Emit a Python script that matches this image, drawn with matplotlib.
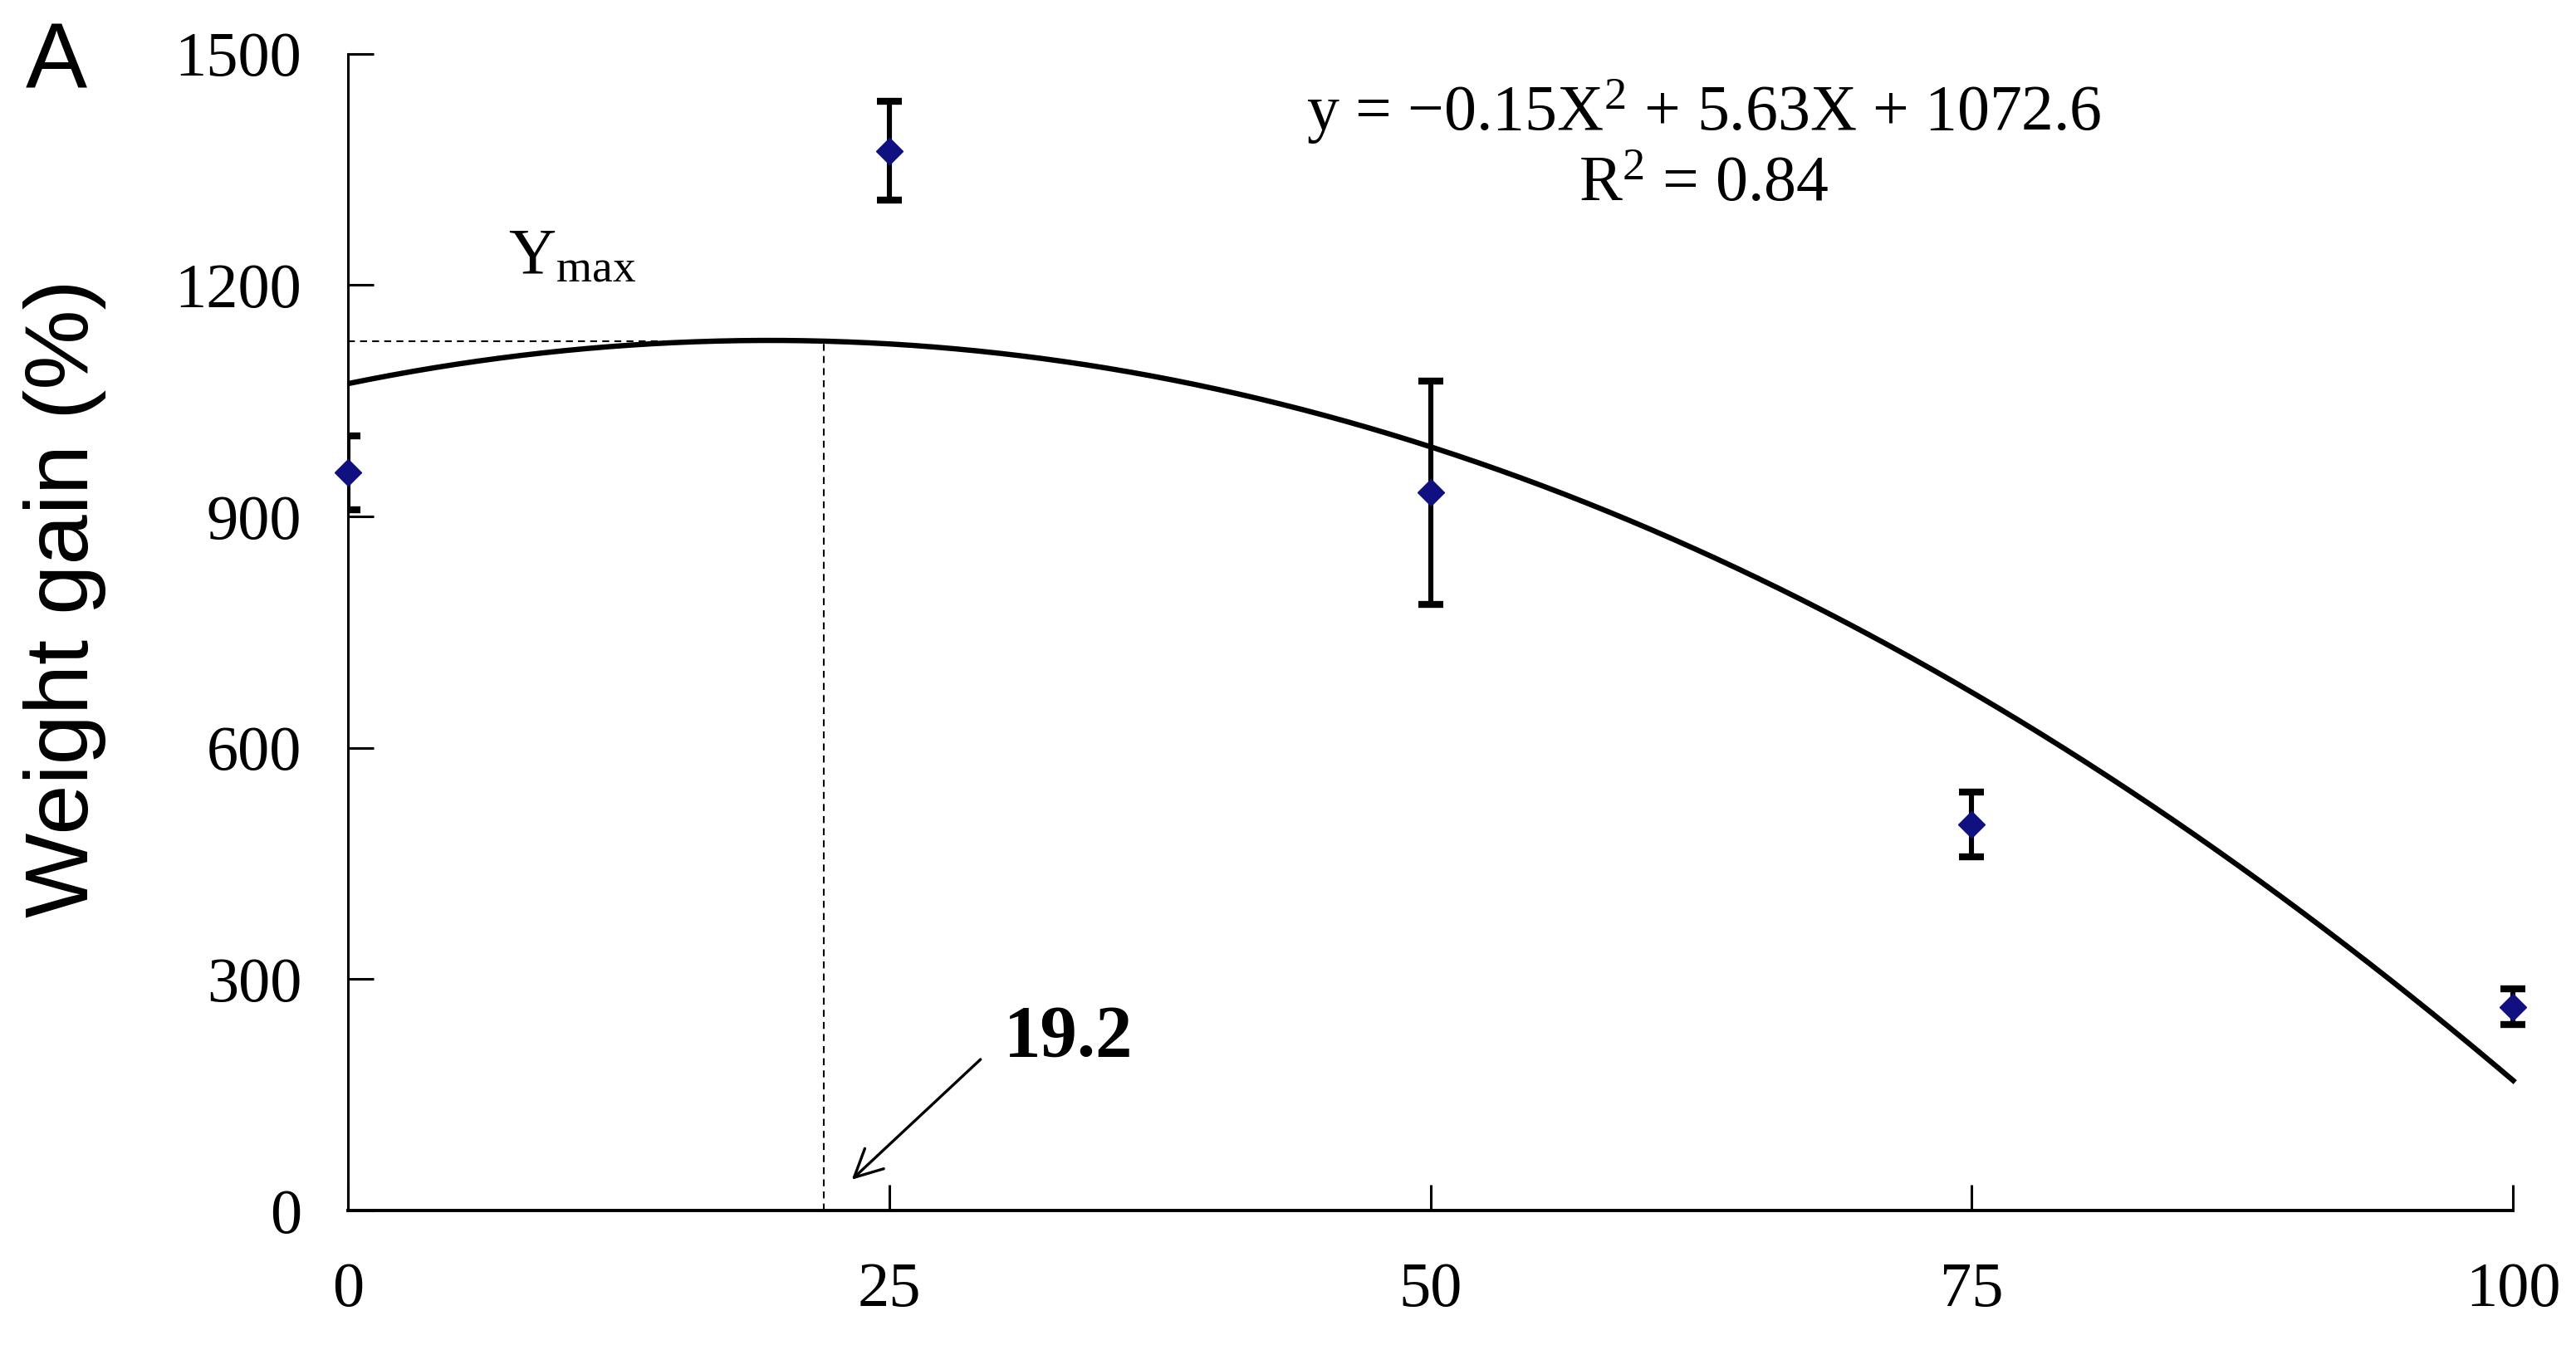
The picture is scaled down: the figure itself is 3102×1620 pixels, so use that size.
import numpy as np
import matplotlib
matplotlib.use("Agg")
import matplotlib.pyplot as plt

# replacement level (%) and weight gain (%)
levels = [0, 25, 50, 75, 100]
weight_gain = [957, 1374, 931, 501, 264]
gain_err = [48, 64, 145, 42, 23]
x_ticks = [0, 25, 50, 75, 100]
y_ticks = [0, 300, 600, 900, 1200, 1500]
eq_text = "y = \u22120.15X$^{2}$ + 5.63X + 1072.6"
r2_text = "R$^{2}$ = 0.84"
opt_label = "19.2"
opt_x = 22

plt.rcParams['font.family'] = ['Liberation Serif', 'DejaVu Serif']
plt.rcParams['mathtext.fontset'] = 'custom'
plt.rcParams['mathtext.rm'] = 'Liberation Serif'
plt.rcParams['mathtext.it'] = 'Liberation Serif'

fig = plt.figure(figsize=(31.02, 16.2), dpi=100)
ax = fig.add_axes([0.135, 0.100, 0.849, 0.860])

# quadratic trend line fitted to the means
coef = np.polyfit(levels, weight_gain, 2)
xs = np.linspace(0, 100, 300)
ax.plot(xs, np.polyval(coef, xs), color='black', lw=4.6, zorder=2)

ax.errorbar(levels, weight_gain, yerr=gain_err, fmt='none', ecolor='black',
            elinewidth=4.4, capsize=11, capthick=6, zorder=3)
ax.plot(levels, weight_gain, 'D', color='#101080', markersize=16,
        zorder=4, clip_on=False)

# optimum guide lines
ymax = np.polyval(coef, opt_x)
ax.plot([0, 16.5], [ymax, ymax], ls=(0, (4, 3)), color='black', lw=1.5)
ax.plot([opt_x, opt_x], [0, ymax], ls=(0, (4, 3)), color='black', lw=1.5)

ax.text(7.4, 1215, r'$\mathrm{Y}_{\mathrm{max}}$', fontsize=57)
ax.text(62.6, 1425, eq_text, fontsize=56, ha='center', va='center')
ax.text(62.6, 1330, r2_text, fontsize=56, ha='center', va='center')
ax.text(30.3, 224, opt_label, fontsize=64, fontweight='bold', va='center')
ax.annotate('', xy=(23.2, 38), xytext=(29.3, 198),
            arrowprops=dict(arrowstyle='->', lw=2.4, color='black',
                            mutation_scale=60))

ax.set_xlim(0, 101)
ax.set_ylim(0, 1500)
ax.set_xticks(x_ticks)
ax.set_yticks(y_ticks)
ax.spines['top'].set_visible(False)
ax.spines['right'].set_visible(False)
ax.spines['bottom'].set_bounds(0, 100)
ax.spines['left'].set_linewidth(2.2)
ax.spines['bottom'].set_linewidth(2.8)
ax.tick_params(axis='both', direction='in', length=22, width=2.2, labelsize=55)
ax.tick_params(axis='x', pad=45)
ax.tick_params(axis='y', pad=40)

fig.text(0.025, 0.555, 'Weight gain (%)', rotation=90, ha='center', va='center',
         fontsize=78, family=['Liberation Sans', 'DejaVu Sans'])
fig.text(0.010, 0.985, 'A', ha='left', va='top', fontsize=80,
         family=['Liberation Sans', 'DejaVu Sans'])

fig.savefig('out.png', dpi=100)
